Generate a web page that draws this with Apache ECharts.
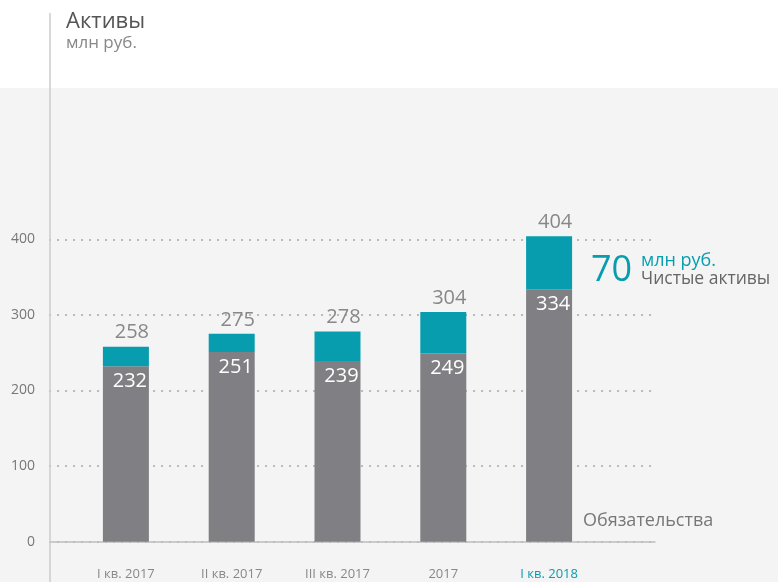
<!DOCTYPE html>
<html>
<head>
<meta charset="utf-8">
<script src="https://cdn.jsdelivr.net/npm/echarts@6/dist/echarts.min.js"></script>
<style>
  html, body { margin: 0; padding: 0; background: #fff; }
  #main { width: 778px; height: 582px; }
</style>
</head>
<body>
<div id="main"></div>
<script>
// данные
var categories = ['I кв. 2017', 'II кв. 2017', 'III кв. 2017', '2017', 'I кв. 2018'];
var liabilities = [232, 251, 239, 249, 334];
var netAssets = [26, 24, 39, 55, 70];
var totals = [258, 275, 278, 304, 404];
var yTicks = [0, 100, 200, 300, 400];

var TEAL = '#079dae';
var GRAY = '#808084';
var FONT = '"Open Sans", "Noto Sans", sans-serif';

var myChart = echarts.init(document.getElementById('main'));

var option = {
  backgroundColor: '#fff',
  animation: false,
  textStyle: { fontFamily: FONT },
  graphic: [
    { type: 'rect', z: -10, shape: { x: 0, y: 88, width: 778, height: 494 }, style: { fill: '#f4f4f4' } },
    { type: 'line', z: 5, shape: { x1: 50, y1: 13, x2: 50, y2: 582 }, style: { stroke: '#cdcdcd', lineWidth: 1.5 } },
    { type: 'text', left: 66, top: 11, style: { text: 'Активы', fontSize: 22, fill: '#555', fontFamily: FONT } },
    { type: 'text', left: 66, top: 35, style: { text: 'млн руб.', fontSize: 17, fill: '#888', fontFamily: FONT } },
    { type: 'text', left: 591, top: 253, style: { text: String(netAssets[4]), fontSize: 36, fill: TEAL, fontFamily: FONT } },
    { type: 'text', left: 641, top: 252, style: { text: 'млн руб.', fontSize: 18, fill: TEAL, fontFamily: FONT } },
    { type: 'text', left: 641, top: 270, style: { text: 'Чистые активы', fontSize: 17.5, fill: '#666', fontFamily: FONT } },
    { type: 'text', left: 583, top: 512, style: { text: 'Обязательства', fontSize: 18, fill: '#777', fontFamily: FONT } }
  ],
  grid: [
    { left: 73, right: 176, top: 239.3, bottom: 40.3 },
    { left: 50, right: 123, top: 239.3, bottom: 40.3 }
  ],
  xAxis: [
    {
      type: 'category', gridIndex: 0, data: categories,
      axisLine: { show: false }, axisTick: { show: false },
      axisLabel: {
        margin: 26, fontSize: 13,
        color: function (v, i) { return i === categories.length - 1 ? TEAL : '#888'; }
      }
    },
    {
      type: 'category', gridIndex: 1, data: [''],
      axisLine: { show: true, lineStyle: { color: '#bdbdbd', width: 1.5 } },
      axisTick: { show: false }, axisLabel: { show: false }
    }
  ],
  yAxis: [
    { type: 'value', gridIndex: 0, min: 0, max: 400, interval: 100, show: false, splitLine: { show: false } },
    {
      type: 'value', gridIndex: 1, min: yTicks[0], max: yTicks[yTicks.length - 1], interval: 100,
      axisLine: { show: false }, axisTick: { show: false },
      axisLabel: { margin: 15, fontSize: 14, color: '#777' },
      splitLine: {
        show: true,
        lineStyle: { color: '#b0b0b0', width: 2.2, type: [0.1, 7.9], cap: 'round' }
      }
    }
  ],
  series: [
    {
      type: 'bar', name: 'Обязательства', stack: 'a', xAxisIndex: 0, yAxisIndex: 0,
      data: liabilities, barWidth: 46, clip: false, z: 3,
      itemStyle: { color: GRAY },
      label: {
        show: true, position: 'insideTop', distance: 5, offset: [4, 0],
        color: '#fff', fontSize: 20
      }
    },
    {
      type: 'bar', name: 'Чистые активы', stack: 'a', xAxisIndex: 0, yAxisIndex: 0,
      data: netAssets, barWidth: 46, clip: false, z: 3,
      itemStyle: { color: TEAL },
      label: {
        show: true, position: 'top', distance: 4, offset: [6, 0],
        color: '#888', fontSize: 20,
        formatter: function (p) { return totals[p.dataIndex]; }
      }
    }
  ]
};

myChart.setOption(option);
</script>
</body>
</html>
